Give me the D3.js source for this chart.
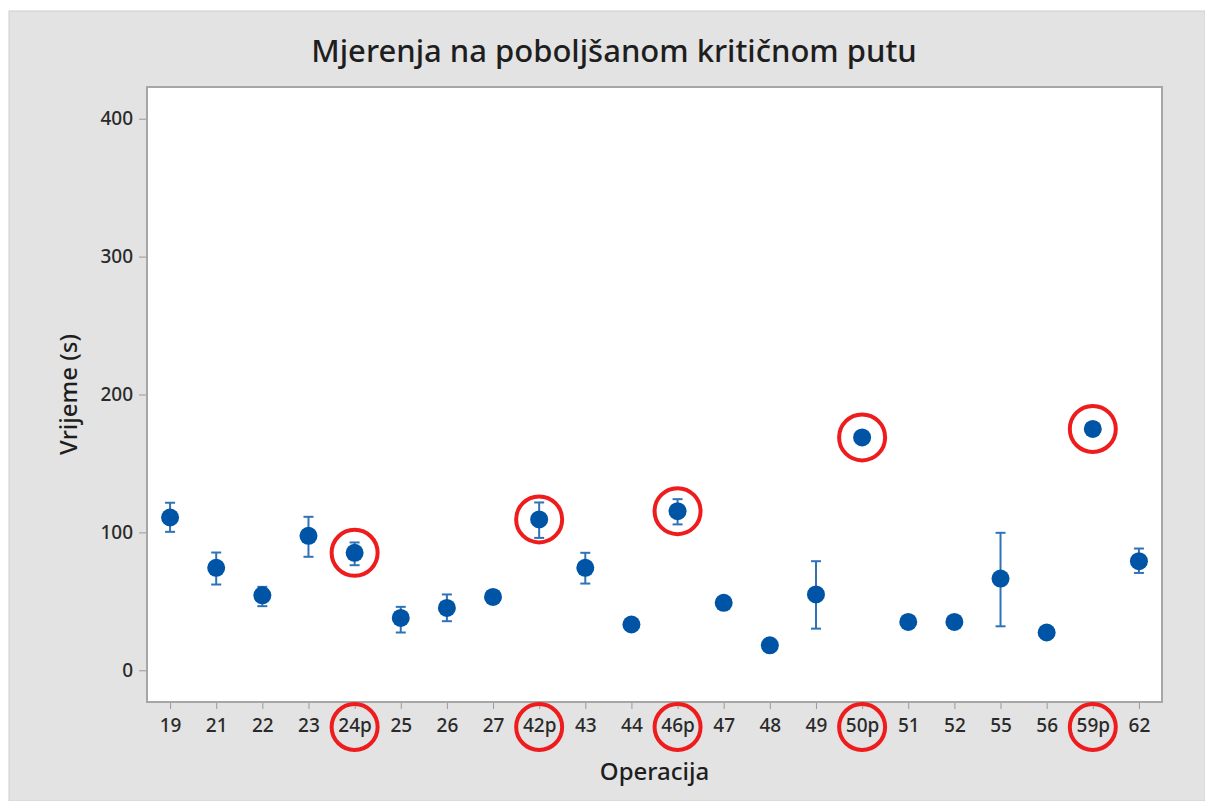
<!DOCTYPE html>
<html>
<head>
<meta charset="utf-8">
<style>
  body { margin: 0; background: #fff; }
  .axis .domain { display: none; }
  .axis text { font-family: "Noto Sans", sans-serif; font-size: 19px; font-weight: 500; fill: #2a2a2a; }
  .axis line { stroke: #9a9a9a; }
</style>
</head>
<body>
<svg width="1205" height="801"></svg>
<script src="https://d3js.org/d3.v7.min.js"></script>
<script>
// operations on the x axis
var operacije = ["19", "21", "22", "23", "24p", "25", "26", "27", "42p", "43", "44", "46p", "47", "48", "49", "50p", "51", "52", "55", "56", "59p", "62"];
// mean time (s)
var srednje = [110.8, 74.3, 54.4, 97.5, 85.2, 38, 45.2, 53.2, 109.4, 74.3, 33.2, 115.4, 48.9, 18.1, 55, 168.9, 35.1, 35.1, 66.5, 27.4, 175, 79.1];
// interval ends
var donje = [100.4, 62.2, 46.5, 82.3, 76.2, 27.4, 35.6, 50, 96, 62.9, 30.5, 105.8, 46, 15.5, 30.2, 165, 31, 31, 31.9, 25, 171.5, 70.6];
var gornje = [121.5, 85.4, 60.5, 111.3, 92.7, 46, 55, 56.5, 121.7, 85.2, 36, 124.1, 52, 20.7, 79.1, 173, 39.3, 39.3, 99.7, 30, 178.5, 88.3];
// circled in red
var oznaceno = ["24p", "42p", "46p", "50p", "59p"];
var yTicks = [0, 100, 200, 300, 400];

var svg = d3.select("svg"),
    margin = {top: 87, right: 43, bottom: 99, left: 147},
    width = 1205 - margin.left - margin.right,
    height = 801 - margin.top - margin.bottom;

// gray panel
svg.append("rect")
    .attr("x", 9).attr("y", 11)
    .attr("width", 1205 - 9).attr("height", 801 - 11)
    .attr("fill", "#e3e3e3")
    .attr("stroke", "#d0d0d0");

svg.append("text")
    .attr("x", 614)
    .attr("y", 62)
    .attr("text-anchor", "middle")
    .attr("font-family", "Noto Sans, sans-serif")
    .attr("font-size", 31)
    .attr("font-weight", 500)
    .attr("fill", "#1e1e1e")
    .text("Mjerenja na poboljšanom kritičnom putu");

var g = svg.append("g").attr("transform", "translate(" + margin.left + "," + margin.top + ")");

var x = d3.scalePoint()
    .domain(operacije)
    .range([0, width])
    .padding(0.5);

var y = d3.scaleLinear()
    .domain([-23, 423])
    .range([height, 0]);

g.append("rect")
    .attr("width", width)
    .attr("height", height)
    .attr("fill", "#fff")
    .attr("stroke", "#a6a6a6")
    .attr("stroke-width", 2);

g.append("g")
    .attr("class", "axis")
    .attr("transform", "translate(0," + (height + 1) + ")")
    .call(d3.axisBottom(x).tickSize(6).tickPadding(10));

g.append("g")
    .attr("class", "axis")
    .attr("transform", "translate(-1,0)")
    .call(d3.axisLeft(y).tickValues(yTicks).tickSize(7).tickPadding(6));

svg.append("text")
    .attr("transform", "translate(77," + (margin.top + height / 2) + ") rotate(-90)")
    .attr("text-anchor", "middle")
    .attr("font-family", "Noto Sans, sans-serif")
    .attr("font-size", 24)
    .attr("font-weight", 500)
    .attr("fill", "#1e1e1e")
    .text("Vrijeme (s)");

svg.append("text")
    .attr("x", margin.left + width / 2)
    .attr("y", 780)
    .attr("text-anchor", "middle")
    .attr("font-family", "Noto Sans, sans-serif")
    .attr("font-size", 24)
    .attr("font-weight", 500)
    .attr("fill", "#1e1e1e")
    .text("Operacija");

var data = operacije.map(function(d, i) {
  return {op: d, m: srednje[i], lo: donje[i], hi: gornje[i]};
});

// error bars
var eb = g.append("g")
    .attr("stroke", "#2f72b8")
    .attr("stroke-width", 2)
  .selectAll("g")
  .data(data)
  .enter().append("g");

eb.append("line")
    .attr("x1", function(d) { return x(d.op); })
    .attr("x2", function(d) { return x(d.op); })
    .attr("y1", function(d) { return y(d.lo); })
    .attr("y2", function(d) { return y(d.hi); });

eb.selectAll(".cap")
  .data(function(d) { return [{op: d.op, v: d.lo}, {op: d.op, v: d.hi}]; })
  .enter().append("line")
    .attr("x1", function(d) { return x(d.op) - 5; })
    .attr("x2", function(d) { return x(d.op) + 5; })
    .attr("y1", function(d) { return y(d.v); })
    .attr("y2", function(d) { return y(d.v); });

// means
g.append("g")
  .selectAll("circle")
  .data(data)
  .enter().append("circle")
    .attr("cx", function(d) { return x(d.op); })
    .attr("cy", function(d) { return y(d.m); })
    .attr("r", 9)
    .attr("fill", "#0054a6");

// red circles around points and tick labels
var marked = data.filter(function(d) { return oznaceno.indexOf(d.op) >= 0; });

g.append("g")
  .selectAll("circle")
  .data(marked)
  .enter().append("circle")
    .attr("cx", function(d) { return x(d.op); })
    .attr("cy", function(d) { return y(d.m); })
    .attr("r", 23)
    .attr("fill", "none")
    .attr("stroke", "#ee1c1c")
    .attr("stroke-width", 4);

g.append("g")
  .selectAll("circle")
  .data(marked)
  .enter().append("circle")
    .attr("cx", function(d) { return x(d.op); })
    .attr("cy", height + 25)
    .attr("r", 23)
    .attr("fill", "none")
    .attr("stroke", "#ee1c1c")
    .attr("stroke-width", 4);
</script>
</body>
</html>
